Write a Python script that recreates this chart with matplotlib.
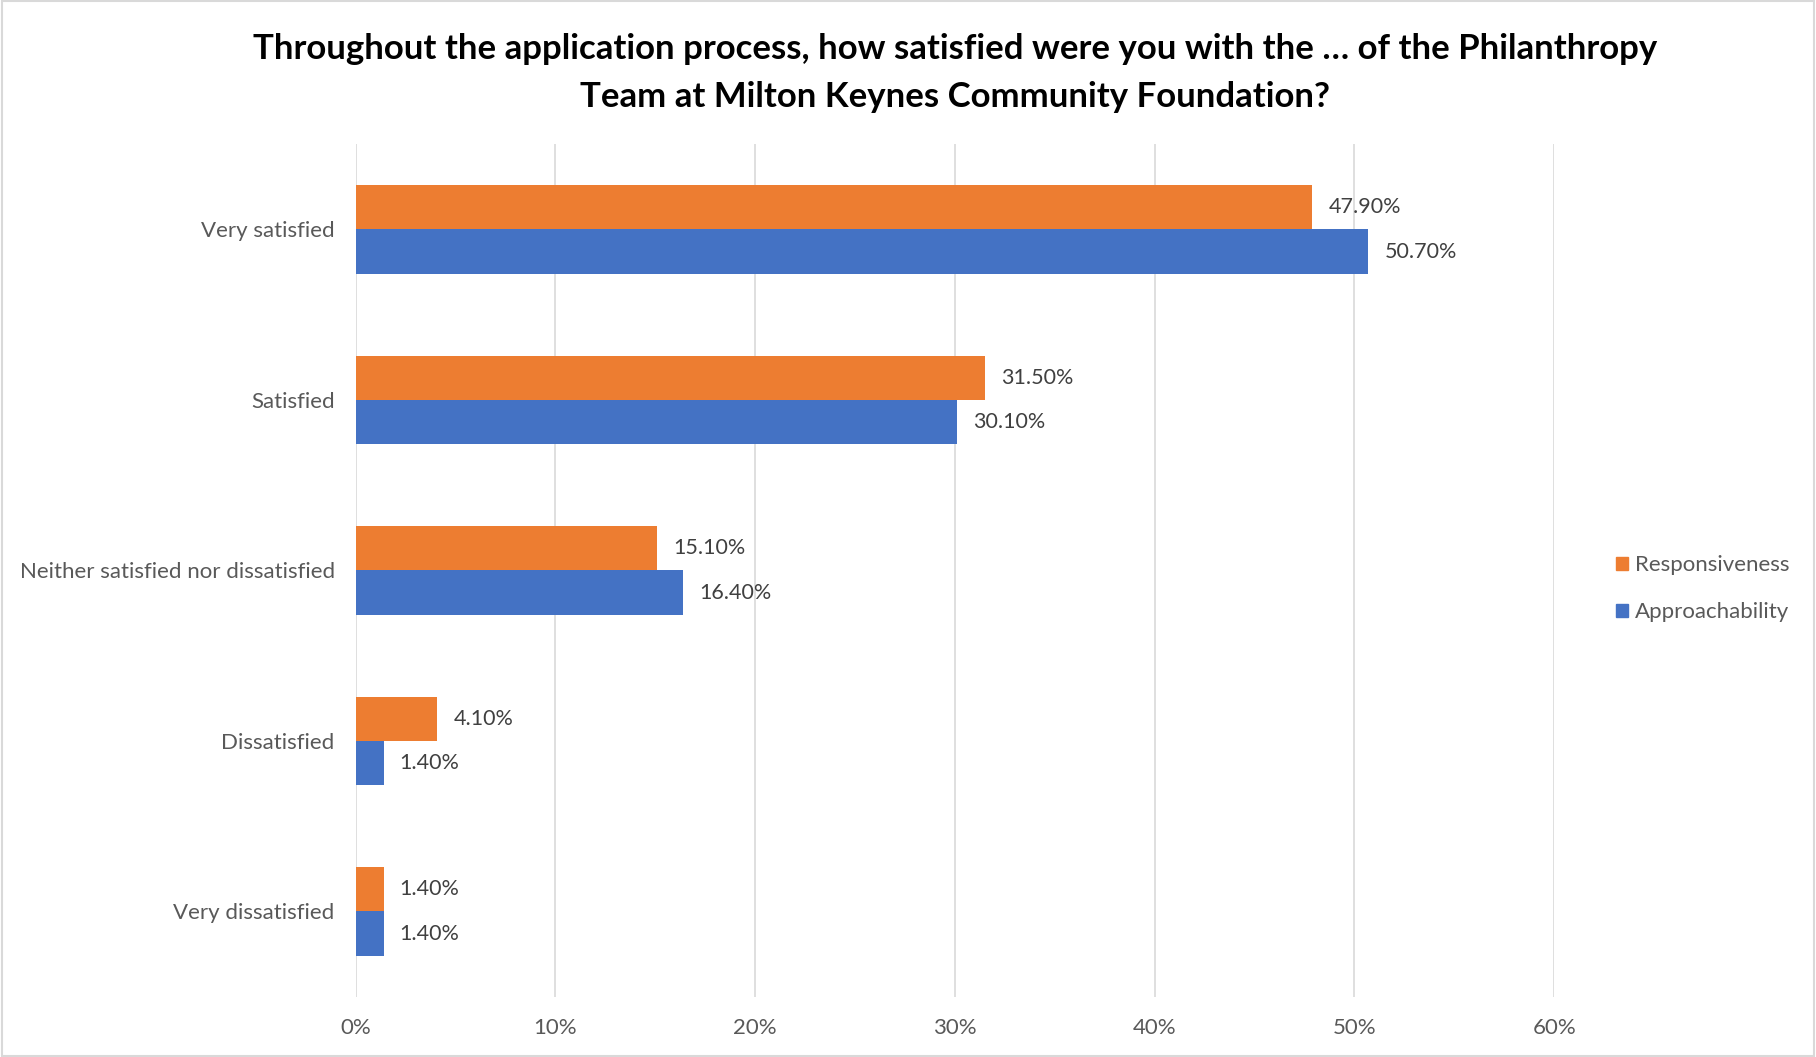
import matplotlib
matplotlib.use("Agg")
import matplotlib.pyplot as plt
from matplotlib.patches import Patch, Rectangle
import numpy as np

categories = ["Very satisfied", "Satisfied", "Neither satisfied nor dissatisfied",
              "Dissatisfied", "Very dissatisfied"]
responsiveness = [47.9, 31.5, 15.1, 4.1, 1.4]
approachability = [50.7, 30.1, 16.4, 1.4, 1.4]
x_ticks = [0, 10, 20, 30, 40, 50, 60]

title = ("Throughout the application process, how satisfied were you with the \u2026 of the Philanthropy\n"
         "Team at Milton Keynes Community Foundation?")

orange = "#ED7D31"
blue = "#4472C4"
grey_text = "#595959"
label_text = "#404040"

plt.rcParams["font.family"] = ["Lato", "DejaVu Sans"]

fig = plt.figure(figsize=(18.16, 10.57), dpi=100)
ax = fig.add_axes([0.1958, 0.057, 0.660, 0.8067])

y = np.arange(len(categories))
h = 0.26
bars_r = ax.barh(y - h / 2, responsiveness, height=h, color=orange, zorder=3)
bars_a = ax.barh(y + h / 2, approachability, height=h, color=blue, zorder=3)

# value labels just past the end of each bar
for bars, vals in ((bars_r, responsiveness), (bars_a, approachability)):
    for b, v in zip(bars, vals):
        ax.annotate(f"{v:.2f}%", (b.get_width(), b.get_y() + b.get_height() / 2),
                    xytext=(16, 0), textcoords="offset pixels",
                    va="center", ha="left", fontsize=15.5, color=label_text)

ax.set_xlim(0, 60)
ax.set_ylim(len(categories) - 0.5, -0.5)
ax.set_xticks(x_ticks)
ax.set_xticklabels([f"{t}%" for t in x_ticks])
ax.set_yticks(y)
ax.set_yticklabels(categories)
ax.tick_params(axis="both", length=0, labelsize=16, labelcolor=grey_text)
ax.tick_params(axis="x", pad=15)
ax.tick_params(axis="y", pad=15)
ax.grid(axis="x", color="#D9D9D9", linewidth=1.2, zorder=0)
for s in ax.spines.values():
    s.set_visible(False)

fig.text(0.526, 0.931, title, ha="center", va="center", fontsize=25,
         fontweight="bold", color="black", linespacing=1.6)

handles = [Patch(color=orange, label="Responsiveness"),
           Patch(color=blue, label="Approachability")]
fig.legend(handles=handles, loc="center left", bbox_to_anchor=(0.879, 0.443),
           frameon=False, fontsize=16, labelcolor=grey_text,
           handlelength=0.55, handleheight=0.55, handletextpad=0.3, labelspacing=1.2)

fig.patches.append(Rectangle((0.001, 0.001), 0.998, 0.998, transform=fig.transFigure,
                             fill=False, edgecolor="#D9D9D9", linewidth=1.5))

fig.savefig("out.png", dpi=100)
